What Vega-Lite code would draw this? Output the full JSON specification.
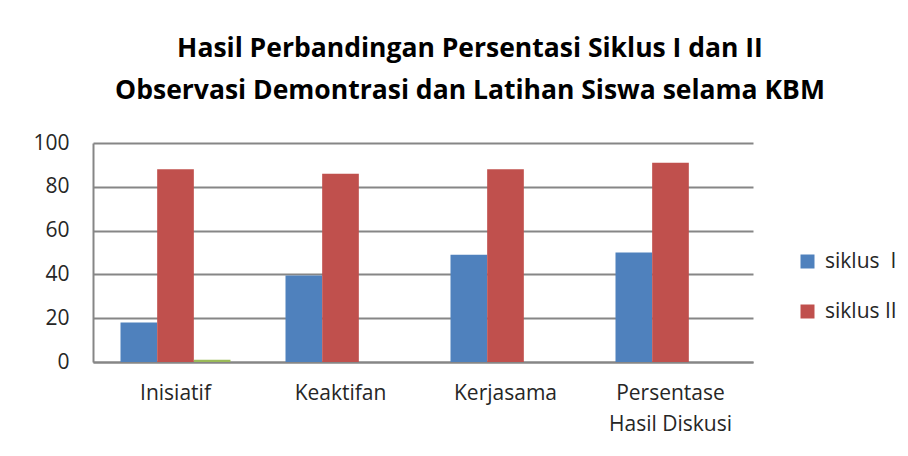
{
  "$schema": "https://vega.github.io/schema/vega-lite/v6.json",
  "width": 660,
  "height": 219,
  "autosize": "none",
  "padding": {"left": 93, "top": 143, "right": 155, "bottom": 94},
  "background": "white",
  "title": {
    "text": ["Hasil Perbandingan Persentasi Siklus I dan II", "Observasi Demontrasi dan Latihan Siswa selama KBM"],
    "font": "Open Sans",
    "fontSize": 26.5,
    "fontWeight": "bold",
    "color": "#000000",
    "anchor": "middle",
    "dx": 47,
    "offset": 28,
    "lineHeight": 42
  },
  "data": {
    "values": [
      {"category": "Inisiatif", "series": "siklus I", "value": 18},
      {"category": "Inisiatif", "series": "siklus II", "value": 88},
      {"category": "Inisiatif", "series": "Series 3", "value": 1},
      {"category": "Keaktifan", "series": "siklus I", "value": 39.5},
      {"category": "Keaktifan", "series": "siklus II", "value": 86},
      {"category": "Kerjasama", "series": "siklus I", "value": 49},
      {"category": "Kerjasama", "series": "siklus II", "value": 88},
      {"category": "Persentase Hasil Diskusi", "series": "siklus I", "value": 50},
      {"category": "Persentase Hasil Diskusi", "series": "siklus II", "value": 91}
    ]
  },
  "mark": {"type": "bar"},
  "encoding": {
    "x": {
      "field": "category",
      "type": "nominal",
      "sort": null,
      "scale": {"paddingInner": 0.3333, "paddingOuter": 0.1667},
      "axis": {
        "title": null,
        "labelAngle": 0,
        "ticks": false,
        "labelPadding": 20,
        "labelFontSize": 21,
        "labelColor": "#262626",
        "labelLineHeight": 31,
        "labelBaseline": "top",
        "domainColor": "#868686",
        "domainWidth": 2,
        "labelExpr": "datum.value == 'Persentase Hasil Diskusi' ? ['Persentase', 'Hasil Diskusi'] : datum.label"
      }
    },
    "y": {
      "field": "value",
      "type": "quantitative",
      "scale": {"domain": [0, 100]},
      "axis": {
        "title": null,
        "values": [0, 20, 40, 60, 80, 100],
        "ticks": false,
        "labelPadding": 24,
        "labelFontSize": 21,
        "labelColor": "#262626",
        "gridColor": "#868686",
        "gridWidth": 2,
        "domainColor": "#868686",
        "domainWidth": 2
      }
    },
    "xOffset": {"field": "series", "sort": ["siklus I", "siklus II", "Series 3"]},
    "color": {
      "field": "series",
      "type": "nominal",
      "scale": {"domain": ["siklus I", "siklus II", "Series 3"], "range": ["#4F81BD", "#C0504D", "#9BBB59"]},
      "legend": {
        "title": null,
        "values": ["siklus I", "siklus II"],
        "orient": "none",
        "legendX": 704,
        "legendY": 108,
        "symbolType": "square",
        "symbolSize": 196,
        "symbolStrokeWidth": 0,
        "labelFontSize": 21,
        "labelColor": "#262626",
        "labelOffset": 7,
        "rowPadding": 28,
        "labelExpr": "datum.label == 'siklus I' ? 'siklus\u00a0\u00a0I' : datum.label"
      }
    }
  },
  "config": {
    "view": {"stroke": null},
    "font": "Open Sans",
    "axis": {"labelFont": "Open Sans", "gridCap": "butt"},
    "legend": {"labelFont": "Open Sans"}
  }
}
